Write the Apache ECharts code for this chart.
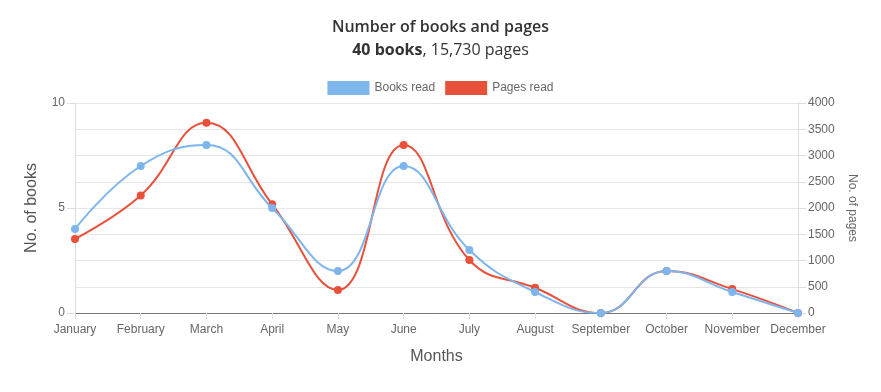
<!DOCTYPE html>
<html><head><meta charset="utf-8">
<script src="https://cdn.jsdelivr.net/npm/echarts@6/dist/echarts.min.js"></script>
<style>html,body{margin:0;padding:0;background:#fff}#c{width:881px;height:392px}</style>
</head><body><div id="c"></div>
<script>
const months = ["January","February","March","April","May","June","July","August","September","October","November","December"];
const booksRead = [4, 7, 8, 5, 2, 7, 3, 1, 0, 2, 1, 0];
const pagesRead = [1410, 2240, 3625, 2070, 440, 3200, 1010, 480, 0, 800, 455, 0];
const booksTicks = [0, 5, 10];
const pagesTicks = [0, 500, 1000, 1500, 2000, 2500, 3000, 3500, 4000];

const totalBooks = booksRead.reduce((a,b)=>a+b,0);
const totalPages = pagesRead.reduce((a,b)=>a+b,0);

const chart = echarts.init(document.getElementById('c'));
chart.setOption({
  animation: false,
  title: {
    left: 'center', top: 11,
    text: '{a|Number of books and pages}\n{b|' + totalBooks + ' books}{c|, ' + totalPages.toLocaleString('en-US') + ' pages}',
    textStyle: {
      rich: {
        a: {fontFamily: 'Open Sans', fontSize: 16, fontWeight: 600, color: '#333', lineHeight: 23},
        b: {fontFamily: 'Open Sans', fontSize: 16, fontWeight: 'bold', color: '#333', lineHeight: 23},
        c: {fontFamily: 'Open Sans', fontSize: 16, fontWeight: 'normal', color: '#333', lineHeight: 23}
      }
    }
  },
  legend: {
    top: 76, left: 'center', itemWidth: 42, itemHeight: 14, itemGap: 10,
    icon: 'rect',
    textStyle: {fontFamily: 'Liberation Sans', fontSize: 12, color: '#666'},
    data: ['Books read', 'Pages read']
  },
  grid: {left: 75, right: 83, top: 103, bottom: 79},
  xAxis: {
    type: 'category', data: months, boundaryGap: false,
    name: 'Months', nameLocation: 'middle', nameGap: 36,
    nameTextStyle: {fontFamily: 'Liberation Sans', fontSize: 16, color: '#555'},
    axisLine: {lineStyle: {color: '#777', width: 1}},
    axisTick: {show: true, alignWithLabel: true, length: 6, lineStyle: {color: '#ddd'}},
    axisLabel: {fontFamily: 'Liberation Sans', fontSize: 12, color: '#666', margin: 11, interval: 0},
    splitLine: {show: false}
  },
  yAxis: [
    {
      type: 'value', min: booksTicks[0], max: booksTicks[booksTicks.length-1], interval: 5,
      name: 'No. of books', nameLocation: 'middle', nameGap: 35, nameRotate: 90,
      nameTextStyle: {fontFamily: 'Liberation Sans', fontSize: 16, color: '#555'},
      axisLine: {show: true, lineStyle: {color: '#ddd'}},
      axisTick: {show: true, length: 8, lineStyle: {color: '#ddd'}},
      axisLabel: {fontFamily: 'Liberation Sans', fontSize: 12, color: '#666', margin: 10},
      splitLine: {show: true, lineStyle: {color: '#ccc'}}
    },
    {
      type: 'value', min: pagesTicks[0], max: pagesTicks[pagesTicks.length-1], interval: 500,
      name: 'No. of pages', nameLocation: 'middle', nameGap: 48, nameRotate: -90,
      nameTextStyle: {fontFamily: 'Liberation Sans', fontSize: 12, color: '#666'},
      axisLine: {show: true, lineStyle: {color: '#ddd'}},
      axisTick: {show: true, length: 8, lineStyle: {color: '#ddd'}},
      axisLabel: {fontFamily: 'Liberation Sans', fontSize: 12, color: '#666', margin: 10,
                  formatter: v => String(v)},
      splitLine: {show: true, lineStyle: {color: '#e6e6e6'}}
    }
  ],
  series: [
    {
      name: 'Books read', type: 'line', yAxisIndex: 0, data: booksRead,
      smooth: 0.45, symbol: 'circle', symbolSize: 8, z: 3,
      itemStyle: {color: '#7DB5EC'}, lineStyle: {width: 2, color: '#7DB5EC'}
    },
    {
      name: 'Pages read', type: 'line', yAxisIndex: 1, data: pagesRead,
      smooth: 0.45, symbol: 'circle', symbolSize: 8, z: 2,
      itemStyle: {color: '#E8503A'}, lineStyle: {width: 2, color: '#E8503A'}
    }
  ]
});
</script></body></html>
